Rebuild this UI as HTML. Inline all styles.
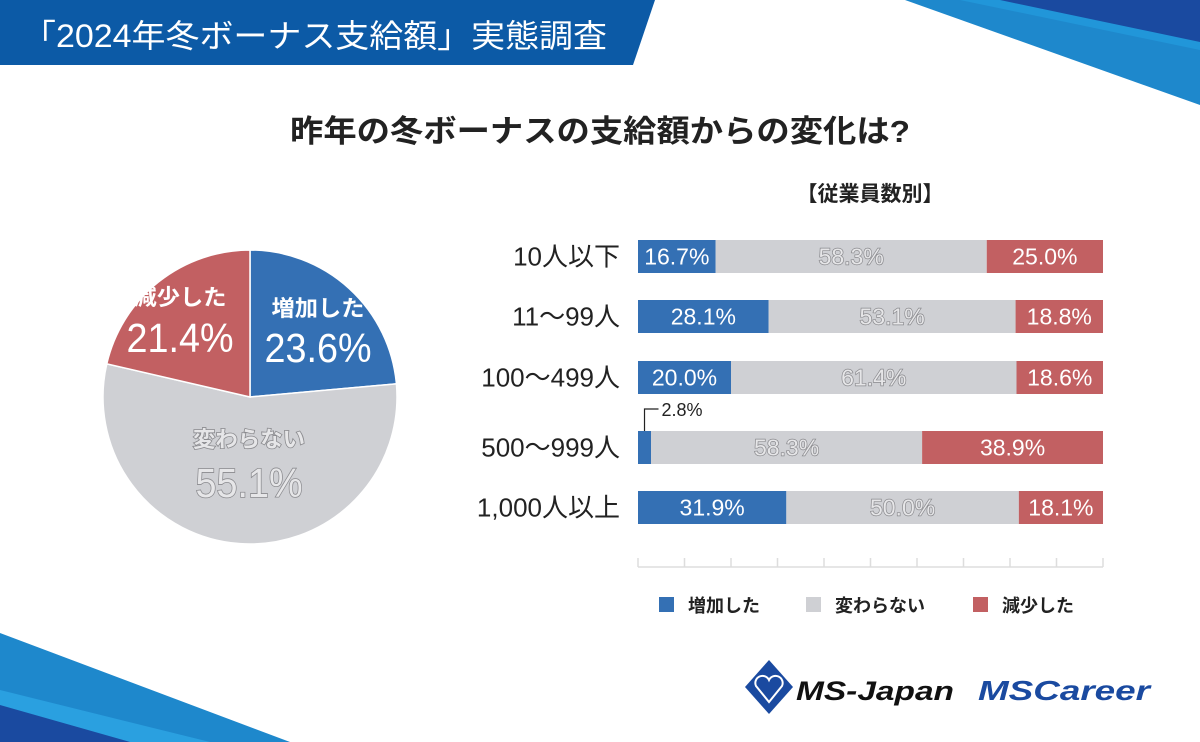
<!DOCTYPE html>
<html><head><meta charset="utf-8"><style>
html,body{margin:0;padding:0;background:#fff}
svg{display:block}
text{font-family:"Liberation Sans","Noto Sans CJK JP",sans-serif}
</style></head><body>
<svg width="1200" height="742" viewBox="0 0 1200 742">
<g>
<polygon points="0,0 655,0 633,65 0,65" fill="#0c5aa6"/>
<polygon points="905,0 1200,0 1200,105" fill="#1e88cc"/>
<polygon points="960,0 1200,0 1200,50" fill="#2196d9"/>
<polygon points="1000,0 1200,0 1200,42" fill="#1a4aa0"/>
<polygon points="0,633 290,742 0,742" fill="#1e88cc"/>
<polygon points="0,690 210,742 0,742" fill="#2aa0e0"/>
<polygon points="0,705 130,742 0,742" fill="#1a4aa0"/>
</g>
<text x="22" y="47" font-size="32" fill="#fff" textLength="585" lengthAdjust="spacingAndGlyphs">「2024年冬ボーナス支給額」実態調査</text>
<text x="290" y="142" font-size="31" font-weight="bold" fill="#222" textLength="620" lengthAdjust="spacingAndGlyphs">昨年の冬ボーナスの支給額からの変化は?</text>
<text x="870" y="201" font-size="21" font-weight="bold" fill="#222" text-anchor="middle">【従業員数別】</text>
<g id="pie"></g>
<g id="bars"></g>
<g>
<g><rect x="659" y="597" width="15" height="15" fill="#3470b4"/><text x="688" y="612" font-size="18" font-weight="bold" fill="#222">増加した</text></g>
<g><rect x="806" y="597" width="15" height="15" fill="#cfd0d4"/><text x="835" y="612" font-size="18" font-weight="bold" fill="#222">変わらない</text></g>
<g><rect x="973" y="597" width="15" height="15" fill="#c26062"/><text x="1002" y="612" font-size="18" font-weight="bold" fill="#222">減少した</text></g>
</g>
<g>
<polygon points="769,660 793,687 769,714 745,687" fill="#1a4aa0"/>
<path d="M769,702 L756,686 A7,7 0 0 1 769,680 A7,7 0 0 1 782,686 Z" fill="none" stroke="#fff" stroke-width="2"/>
<text x="796" y="700" font-size="27" font-weight="bold" font-style="italic" fill="#111" textLength="158" lengthAdjust="spacingAndGlyphs">MS-Japan</text>
</g>
<text x="978" y="700" font-size="28" font-weight="bold" font-style="italic" fill="#1a4aa0" textLength="172" lengthAdjust="spacingAndGlyphs">MSCareer</text>
</svg>
<script>
const NS='http://www.w3.org/2000/svg';
const pieLabels=['増加した','変わらない','減少した'];
const pieValues=[23.6,55.1,21.4];
const colors=['#3470b4','#cfd0d4','#c26062'];
const rowLabels=['10人以下','11～99人','100～499人','500～999人','1,000人以上'];
const incVals=[16.7,28.1,20.0,2.8,31.9];
const sameVals=[58.3,53.1,61.4,58.3,50.0];
const decVals=[25.0,18.8,18.6,38.9,18.1];
function mk(tag,attrs,parent){const e=document.createElementNS(NS,tag);for(const k in attrs)e.setAttribute(k,attrs[k]);parent.appendChild(e);return e;}
const pie=document.getElementById('pie');
const cx=250,cy=397,r=147;
const tot=pieValues.reduce((a,b)=>a+b,0);
function pt(a,rr){return [cx+rr*Math.sin(a),cy-rr*Math.cos(a)];}
let acc=0;
pieValues.forEach((v,i)=>{
 const a0=acc/tot*2*Math.PI;acc+=v;const a1=acc/tot*2*Math.PI;
 const p0=pt(a0,r),p1=pt(a1,r);
 const p=mk('path',{d:`M${cx},${cy} L${p0[0]},${p0[1]} A${r},${r} 0 ${a1-a0>Math.PI?1:0} 1 ${p1[0]},${p1[1]} Z`,fill:colors[i],stroke:'#fff','stroke-width':1.5},pie);
 
 
});
const pieLabelPos=[[318,316,362,93],[249,447,497,112],[180,305,352,93]];
pieValues.forEach((v,i)=>{
 const [x,y1,y2,tw]=pieLabelPos[i];
 const gray=i===1;
 const st=gray?{fill:'#e6e6e8',stroke:'#8a8a8e','stroke-width':1.6,'paint-order':'stroke'}:{fill:'#fff'};
 const t1=mk('text',Object.assign({x:x,y:y1,'font-size':22,'font-weight':'bold','text-anchor':'middle',textLength:tw,lengthAdjust:'spacingAndGlyphs'},st),pie);t1.textContent=pieLabels[i];
 
 
 const t2=mk('text',Object.assign({x:x,y:y2,'font-size':41,'text-anchor':'middle',textLength:107,lengthAdjust:'spacingAndGlyphs'},st),pie);t2.textContent=v.toFixed(1)+'%';
 
 
});
const bars=document.getElementById('bars');
const x0=638,W=465,bh=33;
const rowY=[240,300,361,431,491];
function xs(v){return W*v/100;}
rowLabels.forEach((lab,i)=>{
 const y=rowY[i];
 const t=mk('text',{x:620,y:y+bh/2+9,'font-size':26,'text-anchor':'end',fill:'#222'},bars);t.textContent=lab;
 
 
 const vals=[incVals[i],sameVals[i],decVals[i]];
 const s=vals.reduce((a,b)=>a+b,0);
 let cx0=x0;
 vals.forEach((v,j)=>{
  const w=xs(v/s*100);
  const b=mk('rect',{x:cx0,y:y,width:w,height:bh,fill:colors[j]},bars);
  
  
  if(!(j===0&&v<5)){
   const gray=j===1;
   const st=gray?{fill:'#e6e6e8',stroke:'#8a8a8e','stroke-width':1.4,'paint-order':'stroke'}:{fill:'#fff'};
   const tl=mk('text',Object.assign({x:cx0+w/2,y:y+bh/2+8,'font-size':23,'text-anchor':'middle'},st),bars);tl.textContent=v.toFixed(1)+'%';
   
   
  } else {
   const lx=cx0+w/2;
   const ln=mk('polyline',{points:`${lx},${y} ${lx},${y-22} ${lx+14},${y-22}`,fill:'none',stroke:'#222','stroke-width':1.2},bars);
   
   
   const tl=mk('text',{x:lx+17,y:y-15,'font-size':18,fill:'#222'},bars);tl.textContent=v.toFixed(1)+'%';
   
   
  }
  cx0+=w;
 });
});
const ax=mk('line',{x1:x0,y1:567,x2:x0+W,y2:567,stroke:'#ddd','stroke-width':1.5},bars);


for(let k=0;k<=10;k++){const tk=mk('line',{x1:x0+xs(k*10),y1:558,x2:x0+xs(k*10),y2:567,stroke:'#ddd','stroke-width':1.5},bars);
 
 }
</script>
</body></html>
